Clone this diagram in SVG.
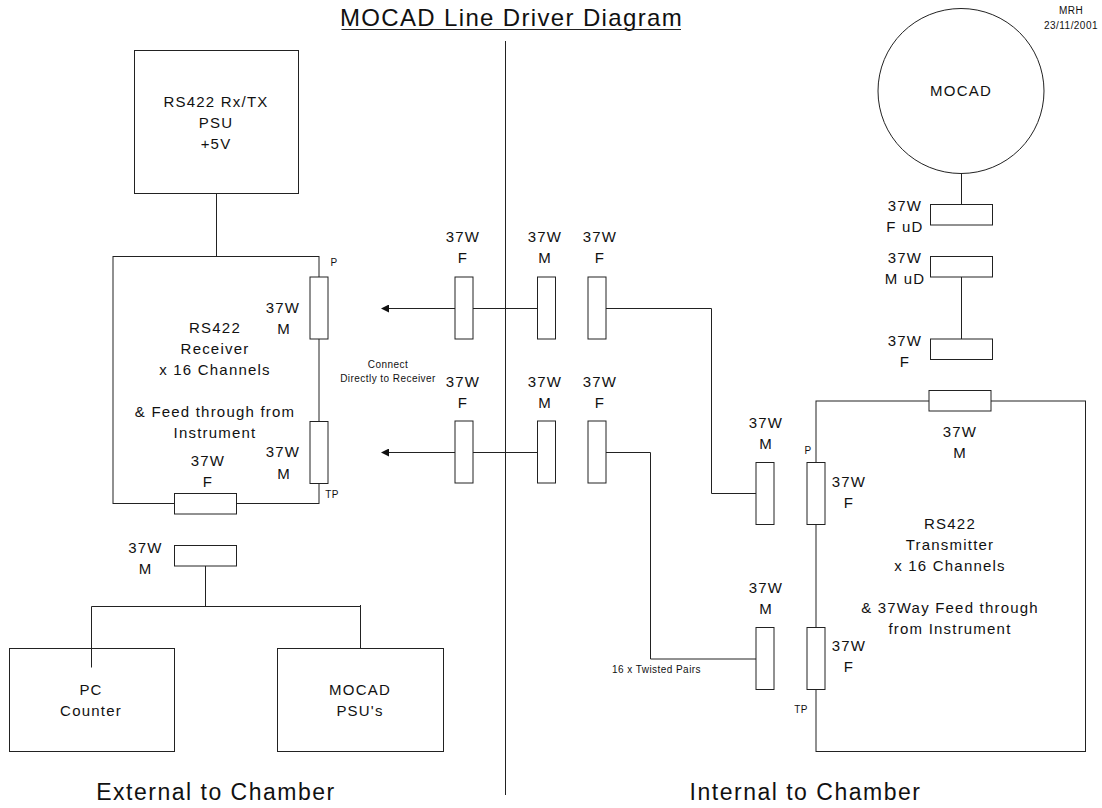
<svg xmlns="http://www.w3.org/2000/svg" width="1102" height="808" viewBox="0 0 1102 808">
<style>
text{font-family:"Liberation Sans",Arial,sans-serif;fill:#111;text-anchor:middle}
.m{font-size:15px;letter-spacing:1.2px}
.s{font-size:10px;letter-spacing:.45px}
.t{font-size:24px;letter-spacing:1.35px}
.l{font-size:23px;letter-spacing:1.5px}
.b{fill:#fff;stroke:#222;stroke-width:1}
.c{fill:none;stroke:#222;stroke-width:1}
</style>
<defs><marker id="a" markerWidth="8" markerHeight="8" refX="7" refY="4" orient="auto" markerUnits="userSpaceOnUse"><path d="M0 0L8 4L0 8Z" fill="#111"/></marker></defs>
<rect width="1102" height="808" fill="#fff"/>
<g id="title"><text class="t" x="511.500" y="26">MOCAD Line Driver Diagram</text><path class="c" d="M341.500 29.500H681"/></g>
<g id="stamp"><text class="s" x="1071" y="14">MRH</text><text class="s" x="1071" y="29">23/11/2001</text></g>
<g id="psu"><rect class="b" x="134.500" y="50.500" width="164" height="143"/><text class="m" x="216" y="107">RS422 Rx/TX</text><text class="m" x="216" y="128">PSU</text><text class="m" x="216" y="149">+5V</text></g>
<g id="receiver"><rect class="b" x="113" y="256.500" width="206" height="247"/>
<text class="m" x="215" y="333">RS422</text><text class="m" x="215" y="354">Receiver</text><text class="m" x="215" y="375">x 16 Channels</text><text class="m" x="215" y="417">&amp; Feed through from</text><text class="m" x="215" y="438">Instrument</text>
<text class="s" x="334" y="266">P</text><text class="s" x="332" y="498">TP</text></g>
<g id="rx-p"><rect class="b" x="310" y="277" width="18" height="62"/><text class="m" x="283" y="313">37W</text><text class="m" x="284" y="334">M</text></g>
<g id="rx-tp"><rect class="b" x="310" y="421.500" width="18" height="62"/><text class="m" x="283" y="457">37W</text><text class="m" x="284" y="479">M</text></g>
<g id="rx-f"><rect class="b" x="174.500" y="493.500" width="62" height="20.500"/><text class="m" x="208" y="466">37W</text><text class="m" x="208" y="487">F</text></g>
<g id="note"><text class="s" x="388" y="368">Connect</text><text class="s" x="388" y="382">Directly to Receiver</text></g>
<g id="c1f"><rect class="b" x="455" y="277" width="18" height="62"/><text class="m" x="463" y="242">37W</text><text class="m" x="463" y="263">F</text></g>
<g id="c1m"><rect class="b" x="537.500" y="277" width="18" height="62"/><text class="m" x="545" y="242">37W</text><text class="m" x="545" y="263">M</text></g>
<g id="c1f2"><rect class="b" x="588" y="277" width="18" height="62"/><text class="m" x="600" y="242">37W</text><text class="m" x="600" y="263">F</text></g>
<g id="c2f"><rect class="b" x="455" y="421" width="18" height="62"/><text class="m" x="463" y="387">37W</text><text class="m" x="463" y="408">F</text></g>
<g id="c2m"><rect class="b" x="537.500" y="421" width="18" height="62"/><text class="m" x="545" y="387">37W</text><text class="m" x="545" y="408">M</text></g>
<g id="c2f2"><rect class="b" x="588" y="421" width="18" height="62"/><text class="m" x="600" y="387">37W</text><text class="m" x="600" y="408">F</text></g>
<g id="mocad"><ellipse class="b" cx="961" cy="91" rx="83" ry="82.500"/><text class="m" x="961" y="96">MOCAD</text></g>
<g id="fud"><rect class="b" x="930.500" y="204.500" width="62" height="20.500"/><text class="m" x="905" y="211">37W</text><text class="m" x="905" y="232">F uD</text></g>
<g id="mud"><rect class="b" x="930.500" y="256.500" width="62" height="20.500"/><text class="m" x="905" y="263">37W</text><text class="m" x="905" y="284">M uD</text></g>
<g id="f3"><rect class="b" x="930.500" y="339" width="62" height="20.500"/><text class="m" x="905" y="346">37W</text><text class="m" x="905" y="367">F</text></g>
<g id="transmitter"><rect class="b" x="816" y="401" width="269.500" height="350.500"/>
<text class="m" x="950" y="529">RS422</text><text class="m" x="950" y="550">Transmitter</text><text class="m" x="950" y="571">x 16 Channels</text><text class="m" x="950" y="613">&amp; 37Way Feed through</text><text class="m" x="950" y="634">from Instrument</text>
<text class="s" x="808" y="454">P</text><text class="s" x="801" y="713">TP</text></g>
<g id="tx-m"><rect class="b" x="929" y="390.500" width="62" height="20.500"/><text class="m" x="960" y="437">37W</text><text class="m" x="960" y="458">M</text></g>
<g id="tx-f1"><rect class="b" x="807" y="462.500" width="18" height="62"/><text class="m" x="849" y="487">37W</text><text class="m" x="849" y="508">F</text></g>
<g id="tx-f2"><rect class="b" x="807" y="627.500" width="18" height="62"/><text class="m" x="849" y="651">37W</text><text class="m" x="849" y="672">F</text></g>
<g id="c3m"><rect class="b" x="756" y="462.500" width="18" height="62"/><text class="m" x="766" y="428">37W</text><text class="m" x="766" y="449">M</text></g>
<g id="c4m"><rect class="b" x="756" y="627.500" width="18" height="62"/><text class="m" x="766" y="593">37W</text><text class="m" x="766" y="614">M</text></g>
<g id="tp-label"><text class="s" x="656.500" y="673">16 x Twisted Pairs</text></g>
<g id="ext-m"><rect class="b" x="174.500" y="545.500" width="62" height="20.500"/><text class="m" x="145.500" y="553">37W</text><text class="m" x="145.500" y="574">M</text></g>
<g id="pc"><rect class="b" x="9.500" y="648.500" width="165" height="103"/><text class="m" x="91" y="695">PC</text><text class="m" x="91" y="716">Counter</text></g>
<g id="psus"><rect class="b" x="277.500" y="648.500" width="166" height="103"/><text class="m" x="360" y="695">MOCAD</text><text class="m" x="360" y="716">PSU's</text></g>
<text class="l" x="216" y="800">External to Chamber</text>
<text class="l" x="805.500" y="800">Internal to Chamber</text>
<g id="connectors">
<path class="c" d="M505.500 41V795"/>
<path class="c" d="M216.500 194V256"/>
<path class="c" d="M961.500 173V204M961.500 277V339"/>
<path class="c" d="M473 308.500H537M606 308.500H711.500V493.500H756"/>
<path class="c" d="M473 452.500H537M606 452.500H650.500V659H756"/>
<path class="c" d="M455 308.500H382" marker-end="url(#a)"/>
<path class="c" d="M455 452.500H382" marker-end="url(#a)"/>
<path class="c" d="M205.500 566V606.500M91.500 667.500V606.500H360.500V648M360.500 605V607"/>
</g>
</svg>
